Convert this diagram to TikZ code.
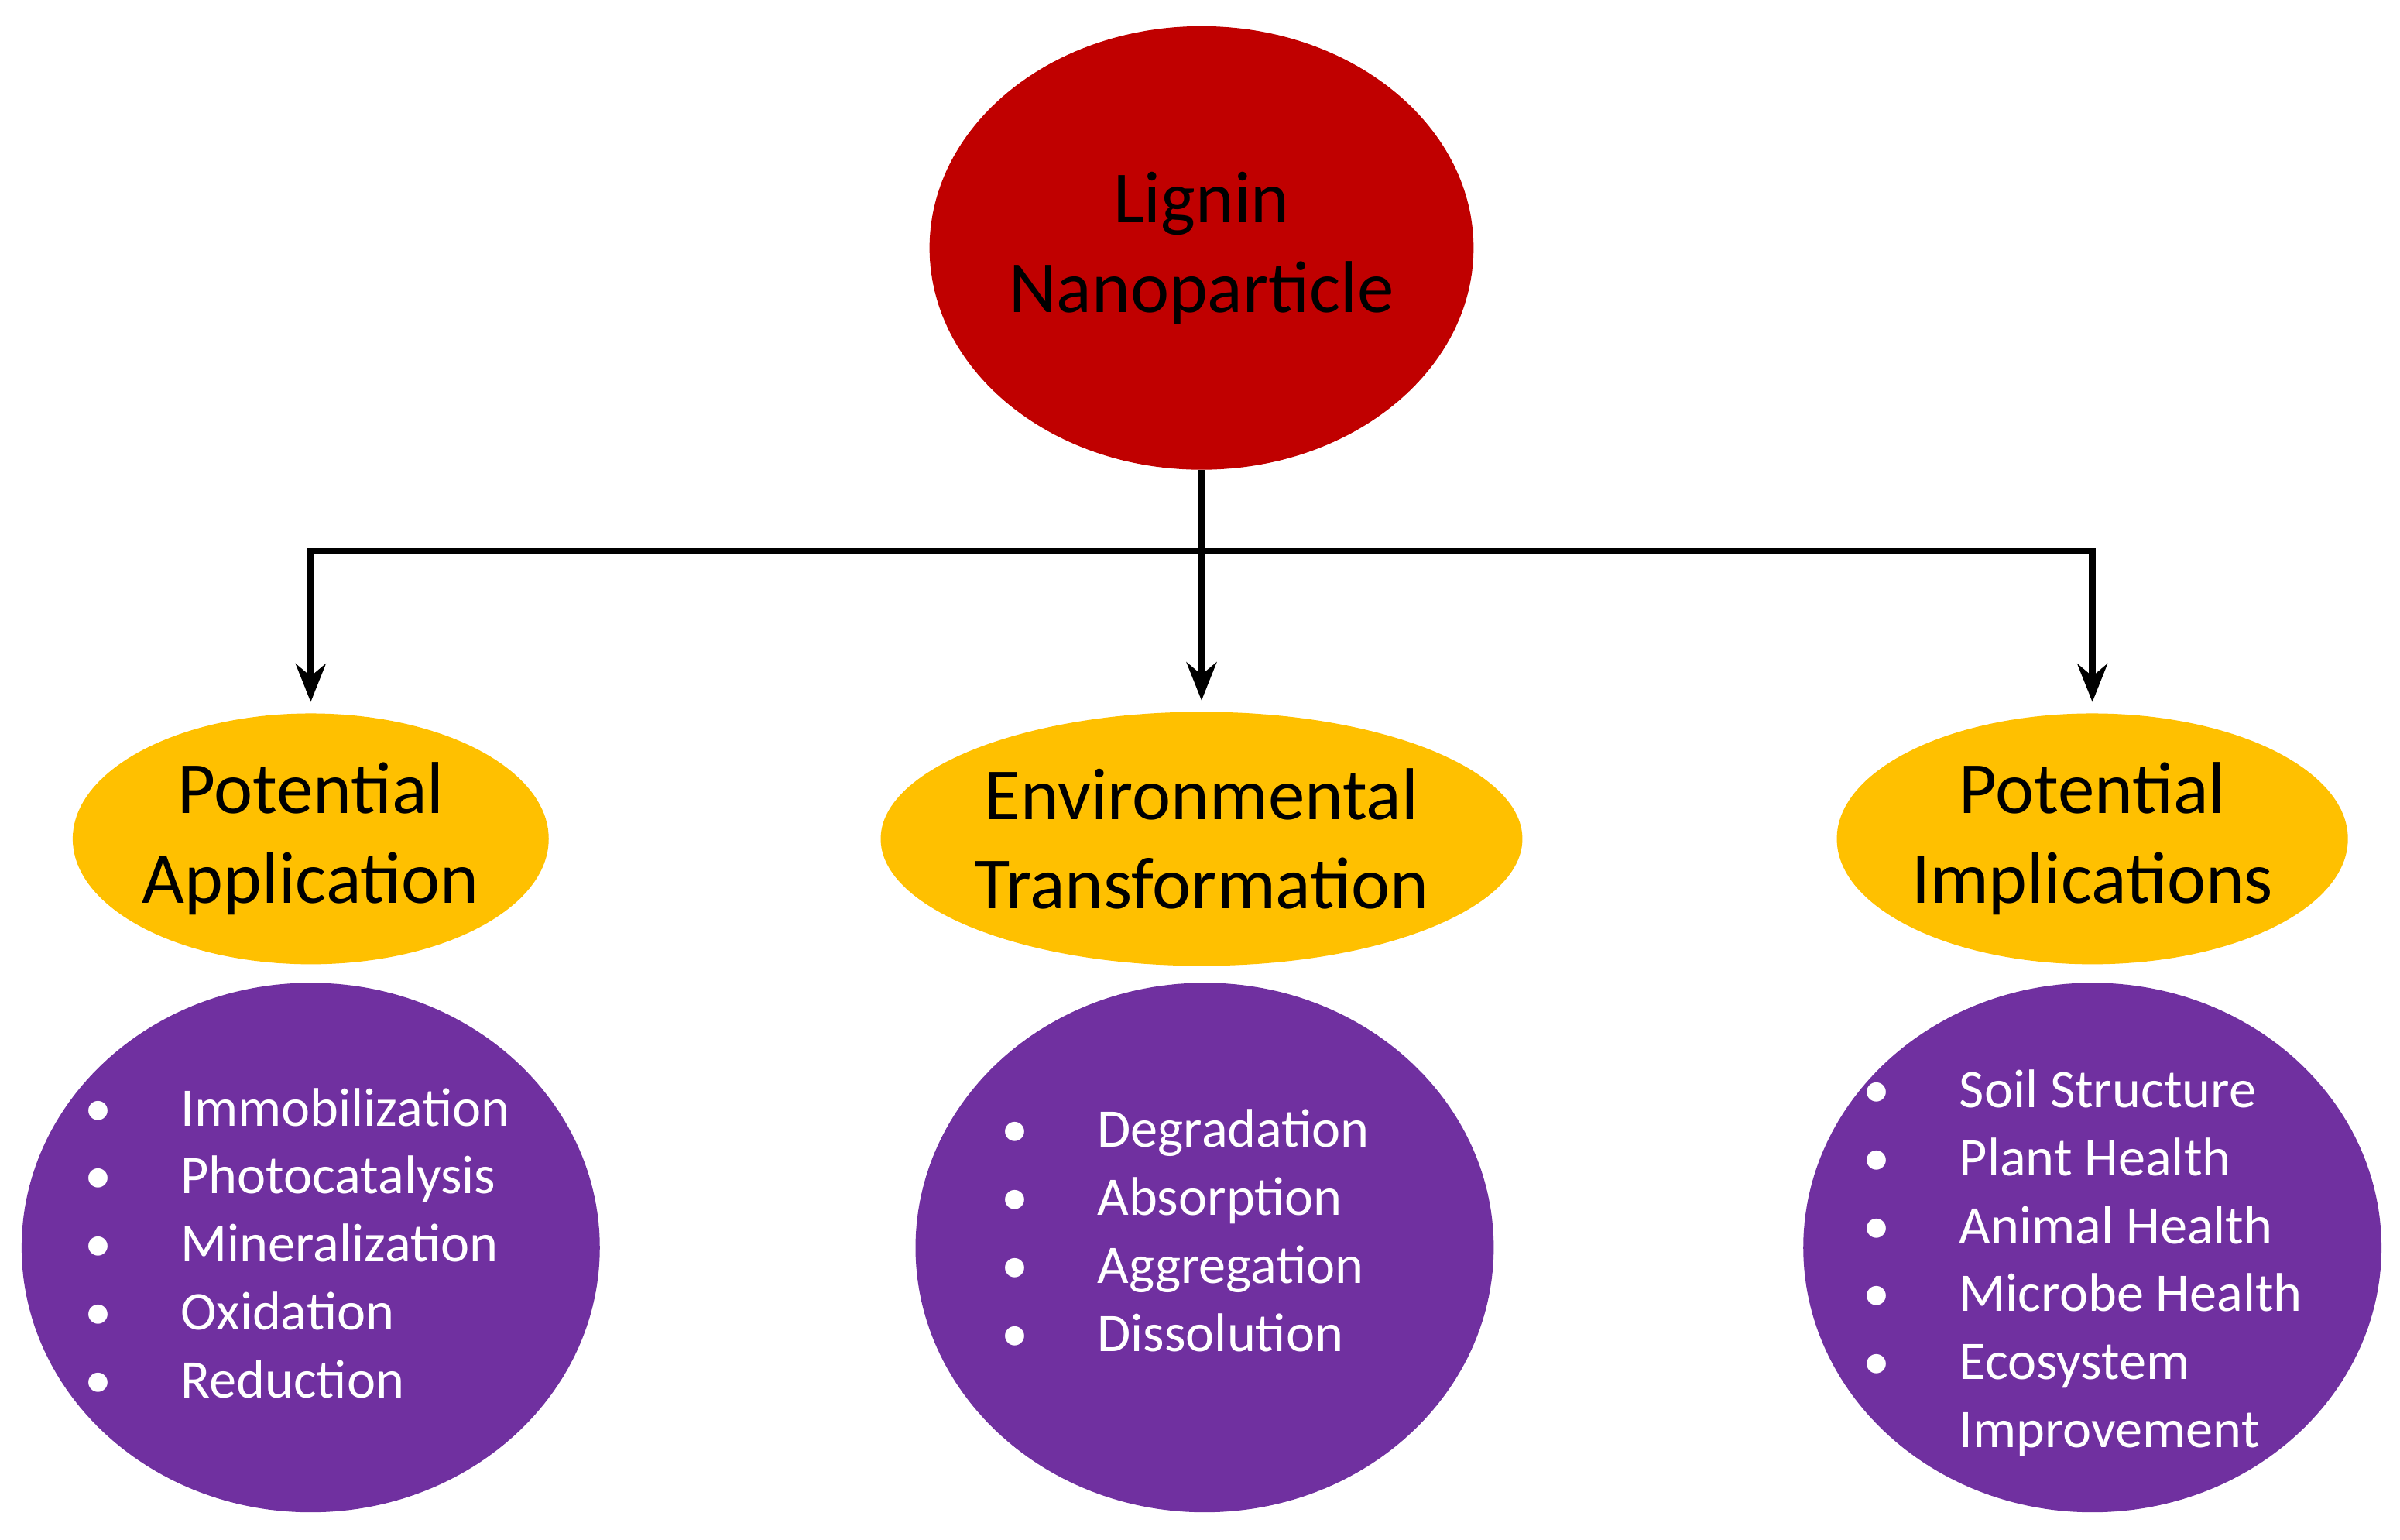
\documentclass[tikz,border=0pt]{standalone}
\usepackage{fontspec}
\setmainfont{Carlito}
\usetikzlibrary{shapes.geometric,positioning,arrows.meta}
\definecolor{lnpred}{HTML}{C00000}
\definecolor{catyellow}{HTML}{FFC000}
\definecolor{listpurple}{HTML}{7030A0}
\tikzset{
    blob/.style={ellipse,inner sep=0pt,align=center},
    big/.style={font=\fontsize{27}{33}\selectfont},
    items/.style={anchor=north west,text=white,inner sep=0pt,
                  font=\fontsize{20}{25}\selectfont},
    link/.style={line width=2.4pt,-{Stealth[length=14pt,width=11pt]}}
}
\begin{document}
\begin{tikzpicture}[x=0.01977cm,y=-0.01977cm]
        \useasboundingbox[fill=white] (0,0) rectangle (1568,1006);
        % top
        \node[blob,big,fill=lnpred,minimum width=6.52cm,minimum height=5.73cm] (lnp) at (785,162) {Lignin\\Nanoparticle};
        % categories
        \node[blob,big,fill=catyellow,minimum width=6.05cm,minimum height=3.24cm] (app) at (203,548) {Potential\\Application};
        \node[blob,big,fill=catyellow,minimum width=7.51cm,minimum height=3.28cm] (env) at (785,548) {Environmental\\Transformation};
        \node[blob,big,fill=catyellow,minimum width=6.05cm,minimum height=3.24cm] (imp) at (1367,548) {Potential\\Implications};
        % lists
        \node[blob,fill=listpurple,minimum width=7.47cm,minimum height=6.84cm] (appl) at (203,815) {};
        \node[blob,fill=listpurple,minimum width=7.47cm,minimum height=6.84cm] (envl) at (787,815) {};
        \node[blob,fill=listpurple,minimum width=7.47cm,minimum height=6.84cm] (impl) at (1367,815) {};
        \node[items] (appt) at (55,704) {\begin{tabular}{@{}l@{\hspace{0.89cm}}l@{}}
            \textbullet & Immobilization\\ \textbullet & Photocatalysis\\
            \textbullet & Mineralization\\ \textbullet & Oxidation\\ \textbullet & Reduction\end{tabular}};
        \node[items] (envt) at (654,718) {\begin{tabular}{@{}l@{\hspace{0.89cm}}l@{}}
            \textbullet & Degradation\\ \textbullet & Absorption\\
            \textbullet & Aggregation\\ \textbullet & Dissolution\end{tabular}};
        \node[items] (impt) at (1217,692) {\begin{tabular}{@{}l@{\hspace{0.89cm}}l@{}}
            \textbullet & Soil Structure\\ \textbullet & Plant Health\\
            \textbullet & Animal Health\\ \textbullet & Microbe Health\\
            \textbullet & Ecosystem\\ & Improvement\end{tabular}};
        % connectors
        \coordinate (fork) at (785,360);
        \draw[link] (lnp.south) -- ([yshift=4]env.north);
        \draw[link] (fork) -| ([yshift=4]app.north);
        \draw[link] (fork) -| ([yshift=4]imp.north);
\end{tikzpicture}
\end{document}
